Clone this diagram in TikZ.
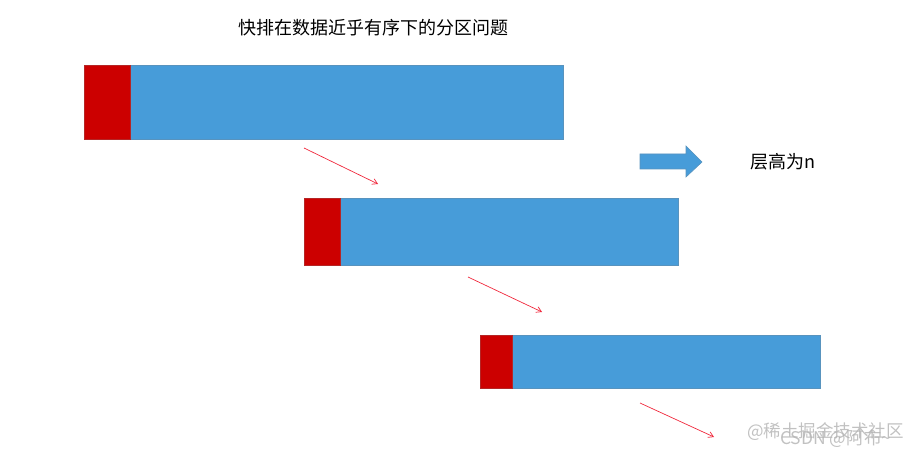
\documentclass[tikz,border=0pt]{standalone}
\usepackage{fontspec}
\newfontfamily\cjk{Noto Sans CJK SC}
\usetikzlibrary{arrows.meta}
\definecolor{barblue}{HTML}{479CD9}
\definecolor{barred}{HTML}{CC0000}
\definecolor{arrred}{HTML}{F0283C}
\tikzset{
  bar/.style={fill=barblue,draw=barblue!70!gray,line width=0.6pt},
  redpart/.style={fill=barred,draw=barred!70!gray,line width=0.6pt},
  ptr/.style={draw=arrred,line width=0.7pt,-{Straight Barb[length=5pt,width=6pt]}},
  lbl/.style={font=\cjk\fontsize{18}{21}\selectfont,inner sep=0pt},
  wm/.style={font=\cjk\fontsize{17.5}{20}\selectfont,inner sep=0pt,text=black!30,opacity=0.8}
}
\begin{document}
\begin{tikzpicture}[x=1pt,y=-1pt]
\useasboundingbox (0,0) rectangle (923,457);
\node[lbl] (title) at (373,28) {快排在数据近乎有序下的分区问题};
% bars
\draw[bar] (84,65) rectangle (563,139);
\draw[redpart] (84,65) rectangle (130,139);
\draw[bar] (304,198) rectangle (678,265);
\draw[redpart] (304,198) rectangle (340,265);
\draw[bar] (480,335) rectangle (820,388);
\draw[redpart] (480,335) rectangle (512,388);
% pointer arrows
\coordinate (a1s) at (304,148); \coordinate (a1e) at (378,184);
\coordinate (a2s) at (468,277); \coordinate (a2e) at (542,312);
\coordinate (a3s) at (640,403); \coordinate (a3e) at (714,437);
\draw[ptr] (a1s) -- (a1e);
\draw[ptr] (a2s) -- (a2e);
\draw[ptr] (a3s) -- (a3e);
% block arrow
\draw[bar] (640,154) -- (686,154) -- (686,146) -- (702,162) -- (686,177)
  -- (686,169) -- (640,169) -- cycle;
\node[lbl,anchor=west] (lvl) at (750,162) {层高为n};
% watermarks
\node[wm,anchor=west] (wm1) at (747,432) {@稀土掘金技术社区};
\node[wm,anchor=west] (wm2) at (780,439) {CSDN @阿布\textasciitilde};
\end{tikzpicture}
\end{document}
